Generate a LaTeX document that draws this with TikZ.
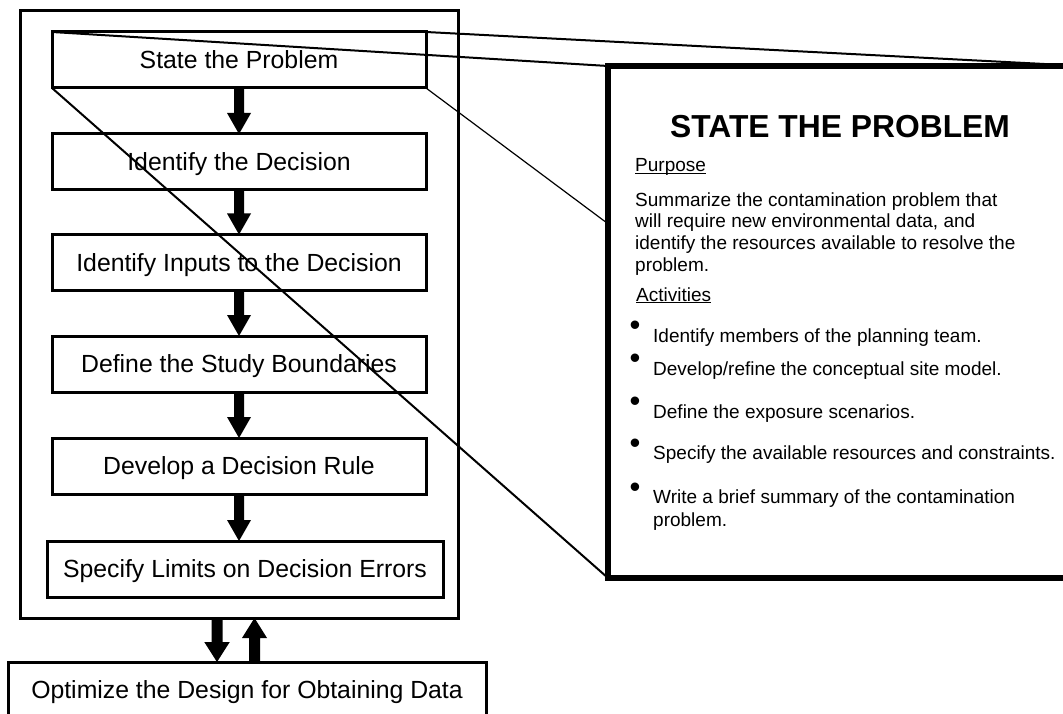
\documentclass[tikz,border=0pt]{standalone}
\usepackage{fontspec}
\setmainfont{Liberation Sans}
\usetikzlibrary{calc}
\newcommand\myul[1]{\setbox0\hbox{#1}\rlap{\rule[-2pt]{\wd0}{1.2pt}}\box0}
\newcommand\blockdown[5]{%
  \fill let \p1=(#1), \p2=(#2) in (\x1-#3,\y1) -- (\x1+#3,\y1) -- (\x1+#3,\y2+#5) -- (\x1+#4,\y2+#5) -- (\x1,\y2) -- (\x1-#4,\y2+#5) -- (\x1-#3,\y2+#5) -- cycle;}
\newcommand\blockup[5]{%
  \fill let \p1=(#1), \p2=(#2) in (\x1-#3,\y1) -- (\x1+#3,\y1) -- (\x1+#3,\y2-#5) -- (\x1+#4,\y2-#5) -- (\x1,\y2) -- (\x1-#4,\y2-#5) -- (\x1-#3,\y2-#5) -- cycle;}
\begin{document}
\begin{tikzpicture}[x=1pt,y=-1pt,
  stepbox/.style={draw, line width=3pt, fill=white, outer sep=0pt, inner sep=0pt,
    minimum height=56pt, minimum width=374pt, text height=17.8pt, text depth=0pt,
    font=\fontsize{24.8}{29}\selectfont},
  outerframe/.style={draw, line width=3pt, outer sep=0pt, inner sep=0pt},
  zoomline/.style={line width=2pt},
  thinzoom/.style={line width=1.2pt},
  detail/.style={draw, line width=6pt, fill=white, outer sep=0pt, inner sep=0pt},
  body/.style={font=\fontsize{19}{21.7}\selectfont, inner sep=0pt},
  bul/.style={font=\fontsize{31}{31}\selectfont, inner sep=0pt}
]
\useasboundingbox (0,0) rectangle (1063,714);
\fill[white] (0,0) rectangle (1063,714);
\clip (0,0) rectangle (1063,714);

% outer frame
\node[outerframe, minimum width=438pt, minimum height=607pt] (outer) at (239,314.5) {};

% steps
\node[stepbox] (s1) at (239,60) {State the Problem};
\node[stepbox] (s2) at (239,162) {Identify the Decision};
\node[stepbox] (s3) at (239,262.5) {Identify Inputs to the Decision};
\node[stepbox] (s4) at (239,364) {Define the Study Boundaries};
\node[stepbox] (s5) at (239,466) {Develop a Decision Rule};
\node[stepbox, minimum width=396pt] (s6) at (245,569) {Specify Limits on Decision Errors};
\node[stepbox, minimum width=478pt] (opt) at (247,690) {Optimize the Design for Obtaining Data};

% arrows between steps
\blockdown{s1.south}{s2.north}{5pt}{12pt}{21pt}
\blockdown{s2.south}{s3.north}{5pt}{12pt}{21pt}
\blockdown{s3.south}{s4.north}{5pt}{12pt}{21pt}
\blockdown{s4.south}{s5.north}{5pt}{12pt}{21pt}
\blockdown{s5.south}{s6.north}{5pt}{12pt}{21pt}

% arrows between frame and optimize
\coordinate (d1) at ($(outer.south)+(-22,0)$);
\coordinate (d2) at (d1 |- opt.north);
\coordinate (u1) at ($(outer.south)+(15.5,0)$);
\coordinate (u2) at (u1 |- opt.north);
\blockdown{d1}{d2}{5.5pt}{12.75pt}{20pt}
\blockup{u2}{u1}{5.5pt}{12.5pt}{20pt}

% detail box (placed first to get its corners)
\node[detail, minimum width=475pt, minimum height=512pt] (rb) at (845.5,322) {};
% zoom lines
\draw[zoomline] (s1.north west) -- (rb.north west);
\draw[zoomline] (s1.north east) -- (rb.north east);
\draw[zoomline] (s1.south west) -- (rb.south west);
\draw[thinzoom] (s1.south east) -- (rb.south east);
% detail box again, on top of the zoom lines
\node[detail, minimum width=475pt, minimum height=512pt] (rbtop) at (rb.center) {};

% detail text
\node[anchor=base, inner sep=0pt, font=\fontsize{31.8}{36}\selectfont\bfseries] (title) at (840,138) {STATE THE PROBLEM};
\node[body, anchor=base west] (purpose) at (635,172) {\myul{Purpose}};
\node[body, anchor=north west, align=left] (ptext) at (635,192.2) {Summarize the contamination problem that\\will require new environmental data, and\\identify the resources available to resolve the\\problem.};
\node[body, anchor=base west] (activities) at (636,301) {\myul{Activities}};

\node[bul] (b1) at (635,328) {•};
\node[bul] (b2) at (635,361) {•};
\node[bul] (b3) at (635,404) {•};
\node[bul] (b4) at (635,446) {•};
\node[bul] (b5) at (635,490) {•};
\node[body, anchor=base west] (a1) at (653,342) {Identify members of the planning team.};
\node[body, anchor=base west] (a2) at (653,375) {Develop/refine the conceptual site model.};
\node[body, anchor=base west] (a3) at (653,418) {Define the exposure scenarios.};
\node[body, anchor=base west] (a4) at (653,459) {Specify the available resources and constraints.};
\node[body, anchor=north west, align=left, font=\fontsize{19}{23}\selectfont] (a5) at (653,489.2) {Write a brief summary of the contamination\\problem.};
\end{tikzpicture}
\end{document}
